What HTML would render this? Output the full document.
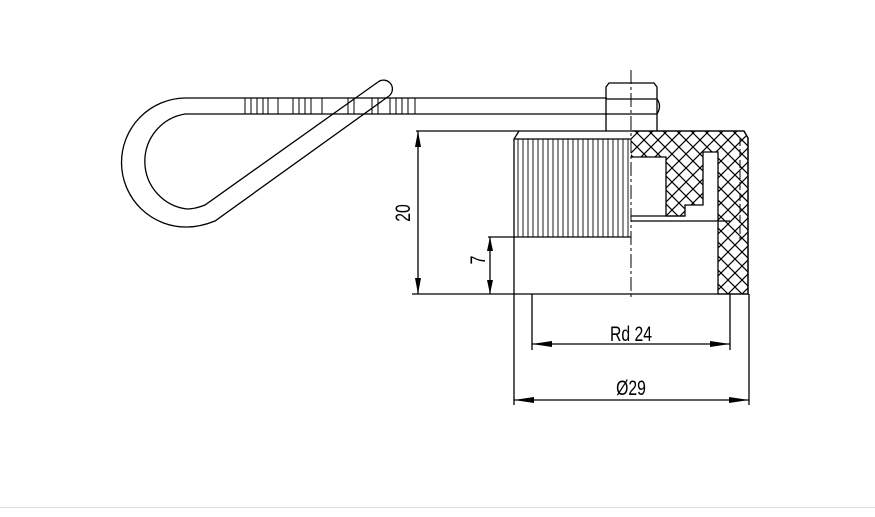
<!DOCTYPE html>
<html><head><meta charset="utf-8"><style>html,body{margin:0;padding:0;background:#fff;width:875px;height:517px;overflow:hidden}</style></head>
<body>
<svg width="875" height="517" viewBox="0 0 875 517" xmlns="http://www.w3.org/2000/svg">
<defs>
<pattern id="xh" width="14" height="14" patternUnits="userSpaceOnUse">
<path d="M-1,-1 L15,15 M-1,13 L1,15 M13,-1 L15,1 M15,-1 L-1,15 M1,-1 L-1,1 M15,13 L13,15" stroke="#000" stroke-width="1.2"/>
</pattern>
<clipPath id="hc"><path d="M631,131 L744,131 L748,138 L748,294 L718,294 L718,152 L703,152 L703,205 L685,205 L685,216 L666,216 L666,157 L631,157 Z"/></clipPath>
</defs>
<g fill="none" stroke="#000" stroke-width="1.3">
<path d="M185,98 L607,98 M185,114 L607,114"/>
<path d="M185,98 A64,64 0 0 0 187,227 Q200,227 215,221 L389,96"/>
<path d="M185,114 A48,48 0 0 0 187,209 Q195,209 205,205 L378,82"/>
<path d="M378,82 A8,8 0 0 1 389,96" fill="#fff"/>
<path d="M245,98V114M251,98V114M257,98V114M263,98V114M268,98V114M278,98V114M293,98V114M299,98V114M305,98V114M311,98V114M322,98V114M348,98V114M354,98V114M372,98V114M378,98V114M390,98V114M396,98V114M402,98V114M408,98V114M415,98V114" stroke-width="1"/>
<path d="M606,131 V87 L609,83 L654,83 L657,87 V131"/>
<path d="M606,99 L657,99 Q662,106 657,114 L606,114"/>
<path d="M416,131 L744,131 L748,138 L748,294 L412,294"/>
<path d="M519,131 L514,139 L514,294"/>
<path d="M514,139 L631,139"/>
<path d="M514,237 L631,237 M488,237 L514,237"/>
</g>
<g stroke="#000" stroke-width="0.9">
<path d="M518,139V237M523,139V237M528,139V237M533,139V237M538,139V237M543,139V237M548,139V237M553,139V237M558,139V237M563,139V237M568,139V237M573,139V237M578,139V237M583,139V237M588,139V237M593,139V237M598,139V237M603,139V237M608,139V237M613,139V237M618,139V237M623,139V237M628,139V237"/>
</g>
<rect x="625" y="125" width="130" height="175" fill="url(#xh)" clip-path="url(#hc)"/>
<g fill="none" stroke="#000" stroke-width="1.3">
<path d="M631,131 L744,131 L748,138 L748,294 L718,294 L718,152 L703,152 L703,205 L685,205 L685,216 L666,216 L666,157 L631,157"/>
<path d="M631,216 L685,216 M631,221 L730,221"/>
<path d="M740,138 V240" stroke-dasharray="8,3" stroke-width="1"/>
<path d="M631,70 V300" stroke-dasharray="14,3,3,3" stroke-width="1"/>
<path d="M418,131 V294 M490,237 V294"/>
<path d="M514,294 V405 M749,294 V405 M532,294 V350 M730,294 V350"/>
<path d="M532,344 H730 M514,400 H749"/>
</g>
<g fill="#000">
<path d="M418,131 l-3,16 h6z M418,294 l-3,-16 h6z"/>
<path d="M490,237 l-3,14 h6z M490,294 l-3,-14 h6z"/>
<path d="M532,344 l20,-3 v6z M730,344 l-20,-3 v6z"/>
<path d="M514,400 l20,-3 v6z M749,400 l-20,-3 v6z"/>
</g>
<g font-family="Liberation Sans, sans-serif" font-size="21" fill="#000">
<text transform="translate(410,213) rotate(-90) scale(0.75,1)" text-anchor="middle">20</text>
<text transform="translate(485,260) rotate(-90) scale(0.75,1)" text-anchor="middle">7</text>
<text transform="translate(631,341) scale(0.75,1)" text-anchor="middle">Rd 24</text>
<text transform="translate(631,395) scale(0.75,1)" text-anchor="middle">Ø29</text>
</g>
<line x1="0" y1="507.5" x2="875" y2="507.5" stroke="#ddd" stroke-width="1"/>
</svg>
</body></html>
